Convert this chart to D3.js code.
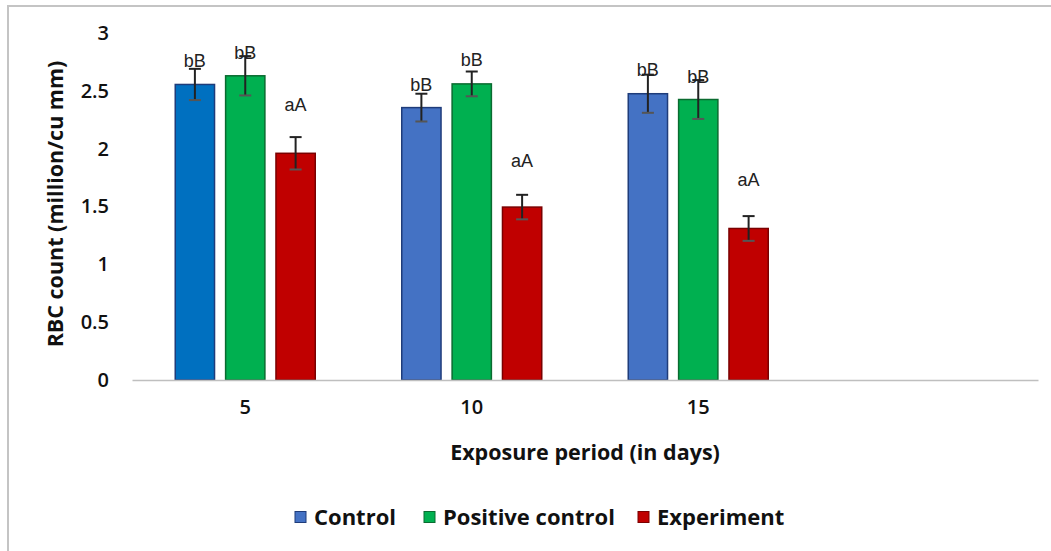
<!DOCTYPE html>
<html>
<head>
<meta charset="utf-8">
<script src="https://cdn.jsdelivr.net/npm/d3@7"></script>
<style>
  body { margin: 0; background: #fff; }
  svg { display: block; font-family: "Open Sans", Lato, sans-serif; }
</style>
</head>
<body>
<div id="chart"></div>
<script>
// exposure periods (the 4th slot is empty in the original)
var periods = ["5", "10", "15", ""];
var seriesNames = ["Control", "Positive control", "Experiment"];

var controlVals = [2.555, 2.355, 2.475];
var positiveVals = [2.63, 2.56, 2.425];
var experimentVals = [1.96, 1.495, 1.31];

var controlErr = [0.135, 0.12, 0.165];
var positiveErr = [0.17, 0.107, 0.168];
var experimentErr = [0.14, 0.106, 0.107];

var controlLabels = ["bB", "bB", "bB"];
var positiveLabels = ["bB", "bB", "bB"];
var experimentLabels = ["aA", "aA", "aA"];

// where the letter labels sit, in y units
var controlLabelY = [2.76, 2.55, 2.68];
var positiveLabelY = [2.83, 2.77, 2.62];
var experimentLabelY = [2.38, 1.90, 1.73];

var yTicks = [0, 0.5, 1, 1.5, 2, 2.5, 3];

var colors = ["#4472C4", "#00B050", "#C00000"];
var strokes = ["#1F3C7A", "#0A6B30", "#7A0000"];
var firstControlColor = "#0070C0";

var W = 1051, H = 551;
var margin = {left: 132, right: 13, top: 33, bottom: 171};
var iw = W - margin.left - margin.right, ih = H - margin.top - margin.bottom;

var svg = d3.select("#chart").append("svg").attr("width", W).attr("height", H);

// chart area border
svg.append("rect")
  .attr("x", 8).attr("y", 6).attr("width", W + 10).attr("height", H + 10)
  .attr("fill", "none").attr("stroke", "#C4C4C4").attr("stroke-width", 2);

var g = svg.append("g").attr("transform", "translate(" + margin.left + "," + margin.top + ")");

var x0 = d3.scaleBand().domain(periods).range([0, iw]);
var x1 = d3.scaleBand().domain(seriesNames).range([0, 140]).paddingInner(0.22);
var y = d3.scaleLinear().domain([0, 3]).range([ih, 0]);

var rows = periods.slice(0, 3).map(function(p, i) {
  return [
    {p: p, s: seriesNames[0], k: 0, v: controlVals[i], e: controlErr[i], lab: controlLabels[i], ly: controlLabelY[i]},
    {p: p, s: seriesNames[1], k: 1, v: positiveVals[i], e: positiveErr[i], lab: positiveLabels[i], ly: positiveLabelY[i]},
    {p: p, s: seriesNames[2], k: 2, v: experimentVals[i], e: experimentErr[i], lab: experimentLabels[i], ly: experimentLabelY[i]}
  ];
});

// y tick labels (no axis line or gridlines in the original)
var yAxis = g.append("g").call(d3.axisLeft(y).tickValues(yTicks).tickSize(0).tickPadding(23).tickFormat(d3.format("")));
yAxis.select(".domain").remove();
yAxis.selectAll("text").attr("font-size", 20).attr("font-weight", 600).attr("fill", "#111")
  .attr("font-family", "'Open Sans', Lato, sans-serif");

var groups = g.selectAll(".grp").data(rows).enter().append("g")
  .attr("class", "grp")
  .attr("transform", function(d) { return "translate(" + (x0(d[0].p) + (x0.bandwidth() - 140) / 2) + ",0)"; });

groups.selectAll("rect").data(function(d) { return d; }).enter().append("rect")
  .attr("x", function(d) { return x1(d.s); })
  .attr("y", function(d) { return y(d.v); })
  .attr("width", x1.bandwidth())
  .attr("height", function(d) { return ih - y(d.v); })
  .attr("fill", function(d, i) { return (d.k === 0 && d.p === "5") ? firstControlColor : colors[d.k]; })
  .attr("stroke", function(d) { return strokes[d.k]; })
  .attr("stroke-width", 1.5);

// error bars
var eb = groups.selectAll(".err").data(function(d) { return d; }).enter().append("g").attr("class", "err")
  .attr("stroke", "#222").attr("stroke-width", 2);
eb.append("line")
  .attr("x1", function(d) { return x1(d.s) + x1.bandwidth() / 2; })
  .attr("x2", function(d) { return x1(d.s) + x1.bandwidth() / 2; })
  .attr("y1", function(d) { return y(d.v + d.e); })
  .attr("y2", function(d) { return y(d.v - d.e); });
eb.selectAll(".cap").data(function(d) { return [d.v + d.e, d.v - d.e].map(function(v) { return {v: v, d: d}; }); })
  .enter().append("line")
  .attr("x1", function(c) { return x1(c.d.s) + x1.bandwidth() / 2 - 6; })
  .attr("x2", function(c) { return x1(c.d.s) + x1.bandwidth() / 2 + 6; })
  .attr("y1", function(c) { return y(c.v); })
  .attr("y2", function(c) { return y(c.v); })
  .attr("stroke", function(c, i) { return i === 0 ? "#222" : "#555"; });

// letter labels
groups.selectAll(".lab").data(function(d) { return d; }).enter().append("text")
  .attr("x", function(d) { return x1(d.s) + x1.bandwidth() / 2; })
  .attr("y", function(d) { return y(d.ly); })
  .attr("dy", "0.35em")
  .attr("text-anchor", "middle")
  .attr("font-size", 18)
  .attr("font-family", "'Liberation Sans', Arial, sans-serif")
  .attr("fill", "#222")
  .text(function(d) { return d.lab; });

// x axis
var xAxis = g.append("g").attr("transform", "translate(0," + ih + ")")
  .call(d3.axisBottom(x0).tickSize(0).tickPadding(20));
xAxis.select(".domain").attr("stroke", "#BFBFBF").attr("stroke-width", 1.5);
xAxis.selectAll("text").attr("font-size", 20).attr("font-weight", 600).attr("fill", "#111")
  .attr("font-family", "'Open Sans', Lato, sans-serif");

// axis titles
svg.append("text")
  .attr("x", 585).attr("y", 452).attr("dy", "0.35em")
  .attr("text-anchor", "middle").attr("font-size", 21.5).attr("font-weight", "bold").attr("fill", "#111")
  .text("Exposure period (in days)");

svg.append("text")
  .attr("transform", "translate(55,204) rotate(-90)")
  .attr("dy", "0.35em")
  .attr("text-anchor", "middle").attr("font-size", 21.5).attr("font-weight", "bold").attr("fill", "#111")
  .text("RBC count (million/cu mm)");

// legend
var legendX = [295, 424, 638];
var leg = svg.selectAll(".leg").data(seriesNames).enter().append("g").attr("class", "leg")
  .attr("transform", function(d, i) { return "translate(" + legendX[i] + ",517)"; });
leg.append("rect")
  .attr("x", 0).attr("y", -5.5).attr("width", 11).attr("height", 11)
  .attr("fill", function(d, i) { return colors[i]; })
  .attr("stroke", function(d, i) { return strokes[i]; }).attr("stroke-width", 1);
leg.append("text")
  .attr("x", 19).attr("dy", "0.35em")
  .attr("font-size", 22).attr("font-weight", "bold").attr("fill", "#111")
  .text(function(d) { return d; });
</script>
</body>
</html>
